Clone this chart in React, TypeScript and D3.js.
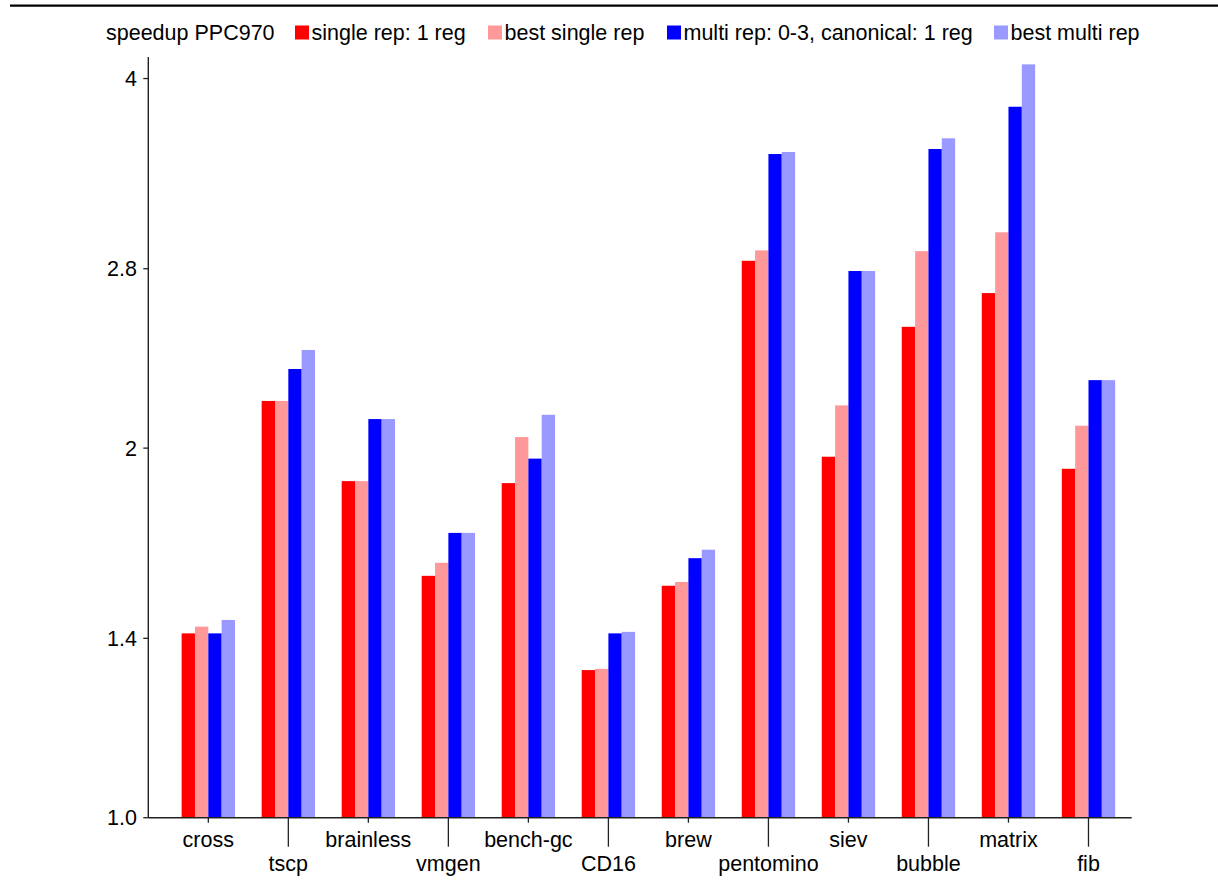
import React from "react";
import * as d3 from "d3";

const categories = ["cross", "tscp", "brainless", "vmgen", "bench-gc", "CD16", "brew", "pentomino", "siev", "bubble", "matrix", "fib"];
const seriesNames = ["single rep: 1 reg", "best single rep", "multi rep: 0-3, canonical: 1 reg", "best multi rep"];
const singleRep = [1.413, 2.185, 1.880, 1.574, 1.873, 1.319, 1.545, 2.842, 1.968, 2.511, 2.675, 1.924];
const bestSingle = [1.431, 2.185, 1.880, 1.613, 2.042, 1.322, 1.556, 2.898, 2.167, 2.894, 2.998, 2.086];
const multiRep = [1.413, 2.320, 2.112, 1.706, 1.961, 1.413, 1.627, 3.472, 2.788, 3.505, 3.794, 2.272];
const bestMulti = [1.449, 2.404, 2.112, 1.706, 2.129, 1.417, 1.653, 3.485, 2.788, 3.576, 4.108, 2.272];
const tickValues = [1.0, 1.4, 2, 2.8, 4];
const tickLabels = ["1.0", "1.4", "2", "2.8", "4"];
const colors = ["#ff0000", "#ff9999", "#0000ff", "#9999ff"];
const legendX = [295, 488, 667, 994];

const FONT = "'Liberation Sans', Arial, Helvetica, sans-serif";

export default function App() {
  const series = [singleRep, bestSingle, multiRep, bestMulti];
  const y = d3.scaleLog().domain([1, 4.165]).range([817.7, 57]);
  const x = d3.scaleLinear().domain([-0.75, 11.54]).range([148.3, 1131.7]);
  const step = x(1) - x(0);
  const bw = step / 6;
  const axisColor = "#222";
  return (
    <svg width={1218} height={890} style={{ position: "absolute", left: 0, top: 0 }} fontFamily={FONT}>
      <rect width={1218} height={890} fill="#fff" />
      <line x1={10} x2={1218} y1={5.7} y2={5.7} stroke="#000" strokeWidth={2.2} />
      {/* bars */}
      {categories.map((c, i) =>
        series.map((s, k) => (
          <rect
            key={c + k}
            x={x(i) - 2 * bw + k * bw}
            y={y(s[i])}
            width={bw}
            height={y(1) - y(s[i])}
            fill={colors[k]}
          />
        ))
      )}
      {/* y axis */}
      <line x1={x.range()[0]} x2={x.range()[0]} y1={57} y2={y(1)} stroke={axisColor} strokeWidth={1.4} />
      {tickValues.map((t, i) => (
        <g key={t}>
          <line x1={x.range()[0] - 5} x2={x.range()[0]} y1={y(t)} y2={y(t)} stroke={axisColor} strokeWidth={1.3} />
          <text x={137} y={y(t) + 7.5} textAnchor="end" fontSize={21.5} fill="#000">
            {tickLabels[i]}
          </text>
        </g>
      ))}
      {/* x axis */}
      <line x1={x.range()[0]} x2={x.range()[1]} y1={y(1)} y2={y(1)} stroke={axisColor} strokeWidth={1.4} />
      {categories.map((c, i) => {
        const long = i % 2 === 1;
        return (
          <g key={c}>
            <line x1={x(i)} x2={x(i)} y1={y(1)} y2={y(1) + (long ? 29 : 5)} stroke={axisColor} strokeWidth={1.3} />
            <text x={x(i)} y={long ? 871 : 847} textAnchor="middle" fontSize={21.5} fill="#000">
              {c}
            </text>
          </g>
        );
      })}
      {/* title + legend */}
      <text x={106} y={39.5} fontSize={21.5} fill="#000">speedup PPC970</text>
      {seriesNames.map((n, k) => (
        <g key={n}>
          <rect x={legendX[k]} y={25.5} width={14} height={14} fill={colors[k]} />
          <text x={legendX[k] + 16.5} y={39.5} fontSize={21.5} fill="#000">{n}</text>
        </g>
      ))}
    </svg>
  );
}
